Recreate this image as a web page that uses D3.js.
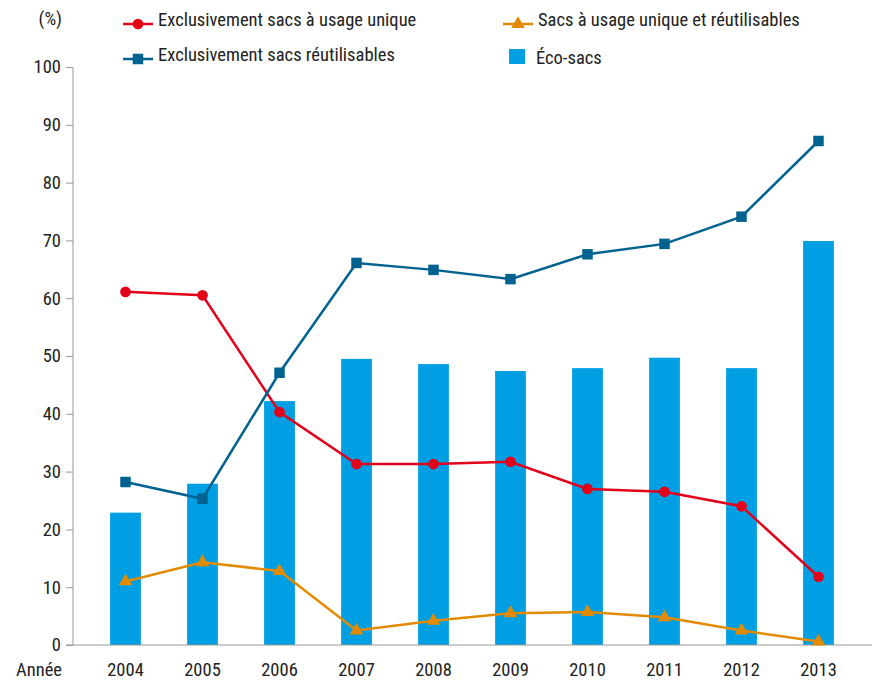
<!DOCTYPE html>
<html>
<head>
<meta charset="utf-8">
<script src="https://cdn.jsdelivr.net/npm/d3@7"></script>
<style>
  body { margin: 0; background: #fff; }
  svg text { font-family: "Liberation Sans Narrow", "Roboto Condensed", "DejaVu Sans Condensed", sans-serif; fill: #222; }
</style>
</head>
<body>
<svg id="chart"></svg>
<script>
const years = ["2004", "2005", "2006", "2007", "2008", "2009", "2010", "2011", "2012", "2013"];
const ecoSacs = [22.9, 27.9, 42.2, 49.5, 48.6, 47.4, 47.9, 49.7, 47.9, 69.9];
const usageUnique = [61.1, 60.5, 40.3, 31.3, 31.3, 31.7, 27.0, 26.5, 24.0, 11.8];
const reutilisables = [28.2, 25.3, 47.1, 66.1, 64.9, 63.3, 67.6, 69.4, 74.1, 87.2];
const mixtes = [11.0, 14.3, 12.8, 2.5, 4.2, 5.5, 5.7, 4.8, 2.5, 0.6];
const yTicks = [0, 10, 20, 30, 40, 50, 60, 70, 80, 90, 100];

const width = 872, height = 680;
const fs = "18.5px";
const svg = d3.select("#chart").attr("width", width).attr("height", height);

const x = d3.scaleBand().domain(years).range([87, 857]).paddingInner(0.6).paddingOuter(0.3);
const y = d3.scaleLinear().domain([0, 100]).range([645, 67]);
const cx = d => x(d) + x.bandwidth() / 2;

const colors = {
    bar: "#009fe3",
    red: "#e2001a",
    blue: "#00628f",
    orange: "#e38b00"
};

// axe Y
const yAxis = svg.append("g")
    .attr("transform", "translate(73,0)")
    .call(d3.axisLeft(y).tickValues(yTicks).tickSize(7).tickPadding(5));
yAxis.select(".domain").attr("stroke", "#999").attr("d", `M0,${y(100)}V${y(0)}`);
yAxis.selectAll(".tick line").attr("stroke", "#999");
yAxis.selectAll(".tick text").style("font-size", fs).attr("fill", "#222");

// barres
svg.append("g").selectAll("rect")
    .data(years)
    .enter().append("rect")
    .attr("x", d => x(d))
    .attr("y", (d, i) => y(ecoSacs[i]))
    .attr("width", x.bandwidth())
    .attr("height", (d, i) => y(0) - y(ecoSacs[i]))
    .attr("fill", colors.bar);

// ligne de base
svg.append("line")
    .attr("x1", 66).attr("x2", 872)
    .attr("y1", y(0)).attr("y2", y(0))
    .attr("stroke", "#999").attr("stroke-width", 1);

// axe X
svg.append("g").selectAll("text")
    .data(years)
    .enter().append("text")
    .attr("x", d => cx(d))
    .attr("y", 676)
    .attr("text-anchor", "middle")
    .style("font-size", fs)
    .text(d => d);

svg.append("text").attr("x", 62).attr("y", 676).attr("text-anchor", "end")
    .style("font-size", fs).text("Année");
svg.append("text").attr("x", 62).attr("y", 25).attr("text-anchor", "end")
    .style("font-size", fs).text("(%)");

const line = d3.line().x(d => cx(d[0])).y(d => y(d[1]));

const series = [
    { name: "Exclusivement sacs à usage unique", values: usageUnique, color: colors.red, symbol: d3.symbolCircle, size: 90 },
    { name: "Exclusivement sacs réutilisables", values: reutilisables, color: colors.blue, symbol: d3.symbolSquare, size: 110 },
    { name: "Sacs à usage unique et réutilisables", values: mixtes, color: colors.orange, symbol: d3.symbolTriangle, size: 80 }
];

series.forEach(s => {
    const pts = years.map((yr, i) => [yr, s.values[i]]);
    svg.append("path")
        .datum(pts)
        .attr("d", line)
        .attr("fill", "none")
        .attr("stroke", s.color)
        .attr("stroke-width", 2.5);
    svg.append("g").selectAll("path")
        .data(pts)
        .enter().append("path")
        .attr("d", d3.symbol().type(s.symbol).size(s.size))
        .attr("transform", d => `translate(${cx(d[0])},${y(d[1])})`)
        .attr("fill", s.color);
});

// légende
const legend = [
    { s: series[0], x: 123, y: 22 },
    { s: series[1], x: 123, y: 57 },
    { s: series[2], x: 503, y: 22 }
];
legend.forEach(l => {
    const g = svg.append("g").attr("transform", `translate(${l.x},${l.y})`);
    g.append("line").attr("x1", 0).attr("x2", 30).attr("y1", 2).attr("y2", 2)
        .attr("stroke", l.s.color).attr("stroke-width", 2.5);
    g.append("path").attr("d", d3.symbol().type(l.s.symbol).size(l.s.size))
        .attr("transform", "translate(15,2)").attr("fill", l.s.color);
    g.append("text").attr("x", 35).attr("y", 4)
        .style("font-size", fs).text(l.s.name);
});
const gEco = svg.append("g").attr("transform", "translate(509,49)");
gEco.append("rect").attr("width", 16).attr("height", 15).attr("fill", colors.bar);
gEco.append("text").attr("x", 27).attr("y", 15).style("font-size", fs).text("Éco-sacs");
</script>
</body>
</html>
